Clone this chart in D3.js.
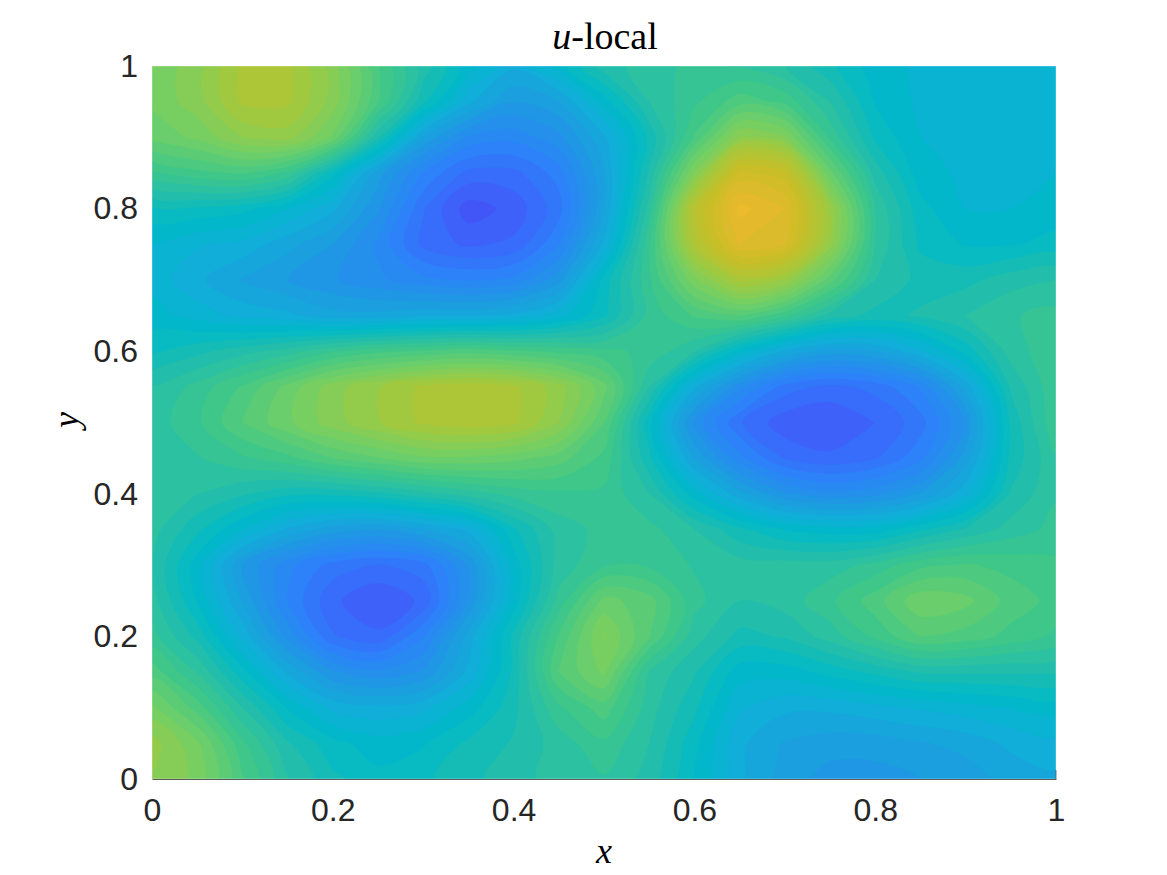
<!DOCTYPE html>
<html><head><meta charset="utf-8">
<script src="https://cdnjs.cloudflare.com/ajax/libs/d3/7.8.5/d3.min.js"></script>
<style>html,body{margin:0;background:#fff}svg{display:block}</style>
</head><body><svg id="c" width="1167" height="875"></svg>
<script>
const titleText = ["u", "-local"];
const xLabel = "x", yLabel = "y";
const xTicks = [0, 0.2, 0.4, 0.6, 0.8, 1];
const yTicks = [0, 0.2, 0.4, 0.6, 0.8, 1];
// surface values, one row per y, x = 0 ... 1 in steps of 0.05
const y100 = [.60,.63,.69,.69,.63,.53,.45,.38,.33,.38,.45,.47,.49,.48,.46,.42,.38,.365,.36,.35,.36];
const y095 = [.60,.63,.69,.69,.63,.53,.42,.33,.28,.30,.38,.46,.50,.54,.52,.46,.39,.365,.355,.35,.355];
const y090 = [.58,.60,.64,.65,.59,.44,.30,.23,.22,.25,.32,.42,.53,.64,.62,.50,.41,.37,.36,.355,.36];
const y085 = [.50,.52,.53,.50,.40,.29,.21,.16,.16,.20,.30,.44,.62,.78,.76,.58,.45,.38,.365,.36,.37];
const y080 = [.41,.41,.40,.37,.33,.26,.17,.11,.13,.18,.30,.47,.72,.85,.82,.66,.48,.40,.37,.37,.38];
const y075 = [.37,.35,.34,.31,.28,.23,.16,.14,.15,.21,.33,.50,.70,.82,.80,.65,.48,.41,.39,.39,.40];
const y070 = [.36,.33,.30,.28,.26,.24,.22,.21,.22,.27,.40,.50,.61,.69,.66,.56,.46,.43,.43,.45,.46];
const y065 = [.38,.36,.34,.33,.31,.31,.32,.32,.33,.36,.41,.49,.53,.55,.51,.45,.43,.44,.46,.48,.49];
const y060 = [.41,.43,.45,.47,.50,.52,.53,.54,.53,.52,.51,.50,.46,.38,.32,.29,.30,.34,.40,.47,.50];
const y055 = [.46,.49,.53,.58,.63,.66,.69,.70,.69,.65,.58,.46,.33,.24,.18,.16,.175,.215,.31,.44,.50];
const y050 = [.47,.50,.55,.59,.63,.66,.69,.70,.69,.64,.55,.40,.25,.17,.13,.125,.145,.18,.26,.42,.50];
const y045 = [.47,.48,.50,.52,.55,.57,.59,.59,.58,.56,.52,.42,.30,.22,.165,.15,.165,.205,.29,.42,.48];
const y040 = [.47,.46,.44,.42,.42,.43,.45,.47,.49,.50,.50,.46,.38,.31,.26,.24,.25,.28,.34,.44,.48];
const y035 = [.47,.42,.37,.32,.29,.28,.30,.33,.41,.47,.49,.49,.46,.42,.39,.38,.38,.41,.44,.47,.49];
const y030 = [.46,.38,.28,.22,.18,.165,.18,.26,.38,.47,.50,.50,.48,.47,.47,.47,.49,.52,.53,.52,.51];
const y025 = [.47,.39,.30,.21,.15,.125,.15,.26,.38,.49,.58,.56,.49,.46,.47,.50,.54,.59,.58,.54,.52];
const y020 = [.49,.43,.34,.25,.17,.15,.21,.31,.42,.53,.62,.55,.47,.43,.44,.47,.51,.55,.54,.52,.50];
const y015 = [.54,.48,.40,.32,.26,.24,.26,.33,.42,.55,.60,.48,.44,.38,.38,.40,.42,.44,.44,.44,.44];
const y010 = [.60,.54,.46,.39,.34,.33,.34,.38,.43,.50,.54,.47,.42,.35,.33,.33,.34,.35,.36,.37,.38];
const y005 = [.65,.60,.51,.44,.40,.38,.39,.42,.44,.47,.50,.46,.40,.33,.30,.29,.29,.30,.31,.33,.34];
const y000 = [.64,.61,.53,.46,.42,.40,.41,.43,.45,.47,.48,.45,.39,.33,.29,.27,.27,.28,.29,.31,.32];
const surfaceRows = [y100,y095,y090,y085,y080,y075,y070,y065,y060,y055,y050,y045,y040,y035,y030,y025,y020,y015,y010,y005,y000];
// colormap as seen in the picture
const colorStops = [.05,.12,.20,.28,.34,.39,.45,.52,.60,.68,.76,.85,1];
const colorValues = ["#483ce1","#415afa","#2d82fa","#1e9be1","#0fafd7","#00b9c8","#23beaa","#41c887","#73d064","#a5c83c","#c8be28","#ebb92d","#f9fb14"];

const svg = d3.select("#c");
const L = 152, R = 1056, T = 66, B = 779;
const nx = surfaceRows[0].length, ny = surfaceRows.length;
// d3.contours puts value i at grid coordinate i + 0.5
const gx = d3.scaleLinear().domain([0.5, nx - 0.5]).range([L, R]);
const gy = d3.scaleLinear().domain([0.5, ny - 0.5]).range([T, B]);
const x = d3.scaleLinear().domain([0, 1]).range([L, R]);
const y = d3.scaleLinear().domain([0, 1]).range([B, T]);
const color = d3.scaleLinear().domain(colorStops).range(colorValues).interpolate(d3.interpolateRgb);

svg.append("defs").append("clipPath").attr("id", "plot").append("rect")
  .attr("x", L).attr("y", T).attr("width", R - L).attr("height", B - T);

const levels = d3.range(0.10, 0.88, 0.0225);
const contours = d3.contours().size([nx, ny]).thresholds(levels)(surfaceRows.flat());
const ringLine = d3.line().x(d => gx(d[0])).y(d => gy(d[1])).curve(d3.curveCatmullRomClosed.alpha(0.5));
const g = svg.append("g").attr("clip-path", "url(#plot)");
contours.forEach(c => {
  const d = c.coordinates.flatMap(poly => poly.map(ring => ringLine(ring.slice(0, -1)))).join("");
  if (d) g.append("path").attr("d", d).attr("fill-rule", "evenodd")
    .attr("fill", color(c.value + 0.011)).attr("stroke", color(c.value + 0.011)).attr("stroke-width", 0.5);
});

// frame
svg.append("rect").attr("x", L).attr("y", T).attr("width", R - L).attr("height", B - T)
  .attr("fill", "none").attr("stroke", "rgba(255,255,255,.35)").attr("stroke-width", 1);

const tickFont = "'Liberation Sans', Arial, sans-serif";
const fmt = d => String(d);
const ax = svg.append("g").attr("transform", `translate(0,${B})`)
  .call(d3.axisBottom(x).tickValues(xTicks).tickFormat(fmt).tickSize(0).tickPadding(19));
ax.select(".domain").attr("stroke", "#262626").attr("stroke-opacity", .75).attr("stroke-width", 1.2);
const ay = svg.append("g").attr("transform", `translate(${L},0)`)
  .call(d3.axisLeft(y).tickValues(yTicks).tickFormat(fmt).tickSize(0).tickPadding(14));
ay.select(".domain").remove();
svg.selectAll(".tick text").attr("font-family", tickFont).attr("font-size", 32).attr("fill", "#262626");
svg.append("line").attr("x1", x(1)).attr("x2", x(1)).attr("y1", y(0)).attr("y2", y(0) - 9)
  .attr("stroke", "#262626").attr("stroke-opacity", .6);

const serif = "'Liberation Serif', 'DejaVu Serif', serif";
const t = svg.append("text").attr("x", 605).attr("y", 49).attr("text-anchor", "middle")
  .attr("font-family", serif).attr("font-size", 38).attr("fill", "#000");
t.append("tspan").attr("font-style", "italic").text(titleText[0]);
t.append("tspan").text(titleText[1]);
svg.append("text").attr("x", 604).attr("y", 863).attr("text-anchor", "middle")
  .attr("font-family", serif).attr("font-style", "italic").attr("font-size", 36).text(xLabel);
svg.append("text").attr("transform", "translate(78,420) rotate(-90)").attr("text-anchor", "middle")
  .attr("font-family", serif).attr("font-style", "italic").attr("font-size", 36).text(yLabel);
</script></body></html>
